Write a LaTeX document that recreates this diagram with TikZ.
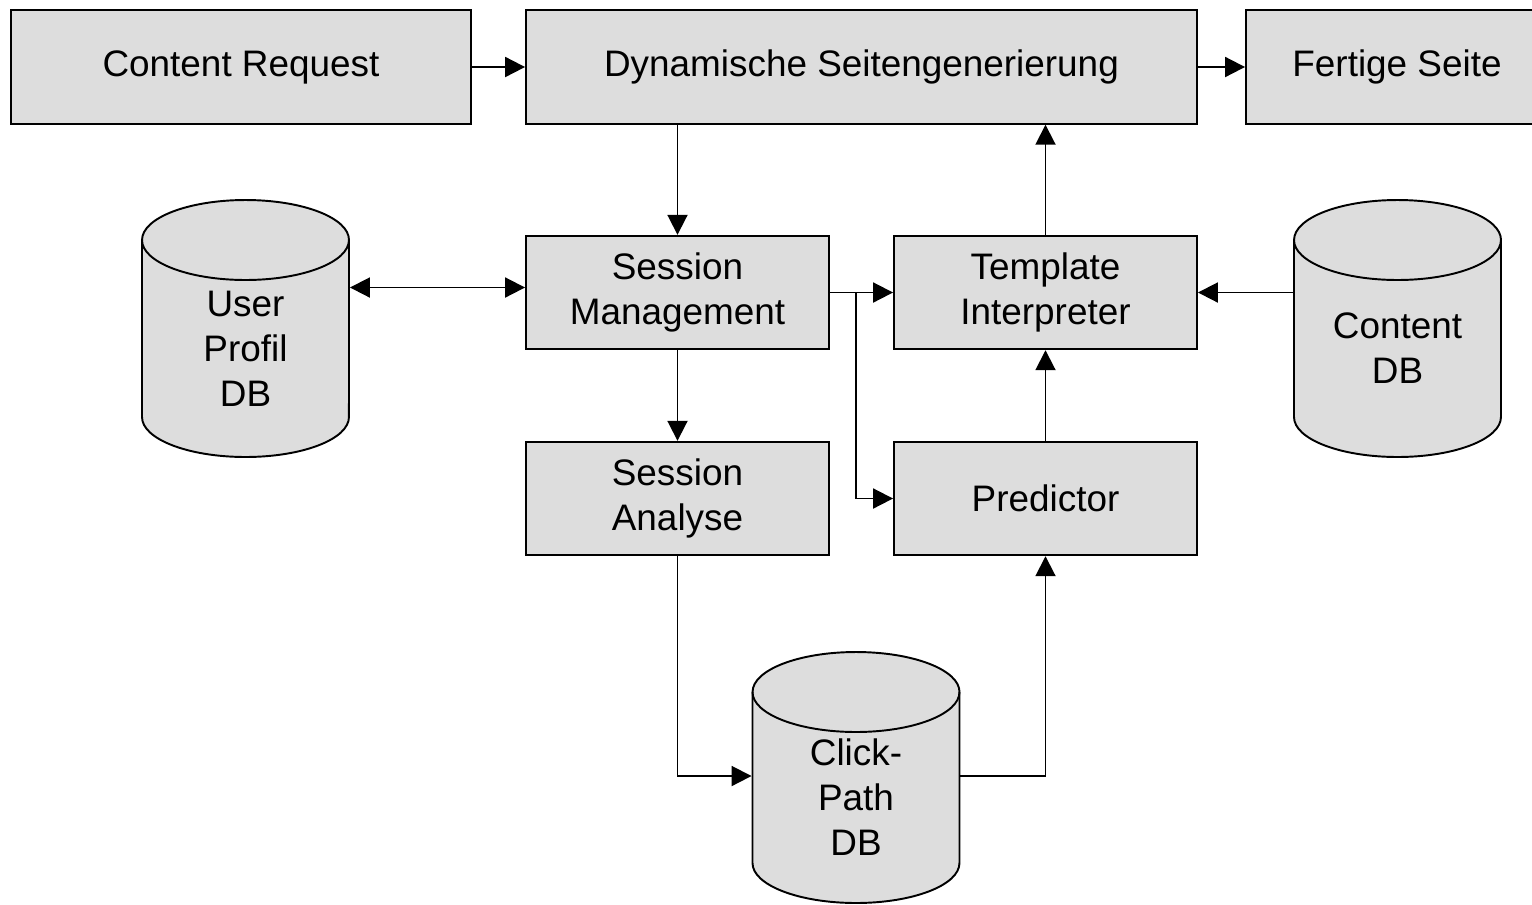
\documentclass[tikz,border=0pt]{standalone}
\usepackage{fontspec}
\setmainfont{Liberation Sans}
\usetikzlibrary{arrows.meta}
\definecolor{boxgray}{HTML}{DDDDDD}
% database cylinder: centre x, top y, bottom y (in picture units)
\newcommand{\dbcyl}[3]{%
	\filldraw[fill=boxgray] (#1-103.5,#2+40) -- (#1-103.5,#3-40)
		arc[start angle=180,end angle=360,x radius=2.07cm,y radius=0.8cm] -- (#1+103.5,#2+40)
		arc[start angle=0,end angle=180,x radius=2.07cm,y radius=0.8cm] -- cycle;
	\draw (#1-103.5,#2+40) arc[start angle=180,end angle=360,x radius=2.07cm,y radius=0.8cm];}
\begin{document}
\begin{tikzpicture}[x=0.02cm,y=-0.02cm,line width=1.1pt,
	font=\fontsize{21}{25.5}\selectfont,
	box/.style = {draw, fill=boxgray, align=center, minimum height=2.27cm, inner sep=0pt},
	dbtext/.style = {align=center, inner sep=0pt, minimum width=4.14cm},
	flow/.style = {-{Triangle[length=0.4cm,width=0.4cm]}}]

		\useasboundingbox (0,0) rectangle (1532,904);

		\node[box, minimum width=9.2cm] (req) at (241,67) {Content Request};
		\node[box, minimum width=13.42cm] (dyn) at (861.5,67) {Dynamische Seitengenerierung};
		\node[box, minimum width=6.04cm] (done) at (1397,67) {Fertige Seite};
		\node[box, minimum width=6.06cm] (sm) at (677.5,292.5) {Session\\Management};
		\node[box, minimum width=6.06cm] (ti) at (1045.5,292.5) {Template\\Interpreter};
		\node[box, minimum width=6.06cm] (sa) at (677.5,498.5) {Session\\Analyse};
		\node[box, minimum width=6.06cm] (pred) at (1045.5,498.5) {Predictor};

		% databases
		\dbcyl{245.5}{200}{457}
		\node[dbtext] (user) at (245.5,349) {User\\Profil\\DB};
		\dbcyl{1397.5}{200}{457}
		\node[dbtext] (content) at (1397.5,348) {Content\\DB};
		\dbcyl{856}{652}{903}
		\node[dbtext] (click) at (856,797) {Click-\\Path\\DB};
		\coordinate (fork) at (856,292.5);

		\draw[flow] (req) -- (dyn);
		\draw[flow] (dyn) -- (done);
		\draw[flow] (dyn.south -| sm.north) -- (sm.north);
		\draw[flow] (ti.north) -- (ti.north |- dyn.south);
		\draw[{Triangle[length=0.4cm,width=0.4cm]}-{Triangle[length=0.4cm,width=0.4cm]}] ([yshift=0.1cm]sm.west -| user.east) -- ([yshift=0.1cm]sm.west);
		\draw[flow] (sm) -- (ti);
		\draw[flow] (fork) |- (pred.west);
		\draw[flow] (sm) -- (sa);
		\draw[flow] (pred) -- (ti);
		\draw[flow] (ti.east -| content.west) -- (ti.east);
		\draw[flow] (sa.south) |- ([yshift=0.42cm]click.west);
		\draw[flow] ([yshift=0.42cm]click.east) -| (pred.south);
	\end{tikzpicture}
\end{document}
